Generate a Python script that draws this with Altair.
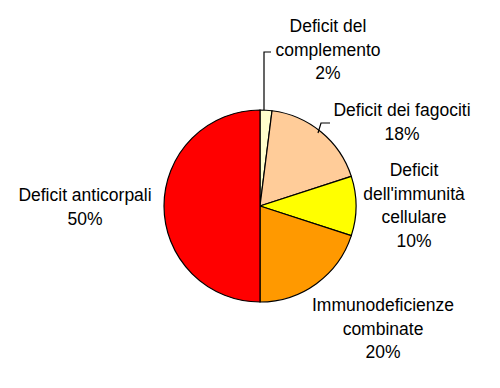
import altair as alt
import pandas as pd

# data
categories = ["Deficit del complemento", "Deficit dei fagociti", "Deficit dell'immunità cellulare",
              "Immunodeficienze combinate", "Deficit anticorpali"]
values = [2, 18, 10, 20, 50]
colors = ["#FFFFCC", "#FFCC99", "#FFFF00", "#FF9900", "#FF0000"]
label_texts = ["Deficit del\ncomplemento\n2%", "Deficit dei fagociti\n18%",
               "Deficit\ndell'immunità\ncellulare\n10%", "Immunodeficienze\ncombinate\n20%",
               "Deficit anticorpali\n50%"]

W, H = 476, 364
CX, CY, R = 252, 198, 96

df = pd.DataFrame({"cat": categories, "val": values, "idx": list(range(len(values)))})

pie = alt.Chart(df).mark_arc(outerRadius=R, stroke="black", strokeWidth=1.2).encode(
    theta=alt.Theta("val:Q", stack=True),
    order=alt.Order("idx:Q"),
    color=alt.Color("cat:N", scale=alt.Scale(domain=categories, range=colors), legend=None),
    x=alt.value(CX), y=alt.value(CY),
)

# label layout (pixel positions of first line of each label block)
lab = pd.DataFrame({
    "t": label_texts,
    "lx": [320, 394, 406, 375, 77],
    "ly": [19, 103, 163, 298, 188],
})
labels = alt.Chart(lab).mark_text(fontSize=17.5, font="Liberation Sans", lineBreak="\n",
                                  lineHeight=23.5, align="center", baseline="middle", color="black").encode(
    x=alt.X("lx:Q", scale=None, axis=None), y=alt.Y("ly:Q", scale=None, axis=None), text="t:N")

# leader lines (pixel layout)
lines = pd.DataFrame({
    "g": ["a", "a", "a", "b", "b", "b"],
    "o": [0, 1, 2, 0, 1, 2],
    "px": [256, 256, 263, 310, 313, 322],
    "py": [102, 44, 44, 125, 115, 115],
})
leaders = alt.Chart(lines).mark_line(color="black", strokeWidth=1.2).encode(
    x=alt.X("px:Q", scale=None, axis=None), y=alt.Y("py:Q", scale=None, axis=None),
    detail="g:N", order="o:Q")

chart = alt.layer(pie, leaders, labels).properties(
    width=W, height=H, autosize=alt.AutoSizeParams(type="none"), padding=0, background="white"
).configure_view(stroke=None, strokeWidth=0)

chart.save("out.html", embed_options={"renderer": "svg", "actions": False})
